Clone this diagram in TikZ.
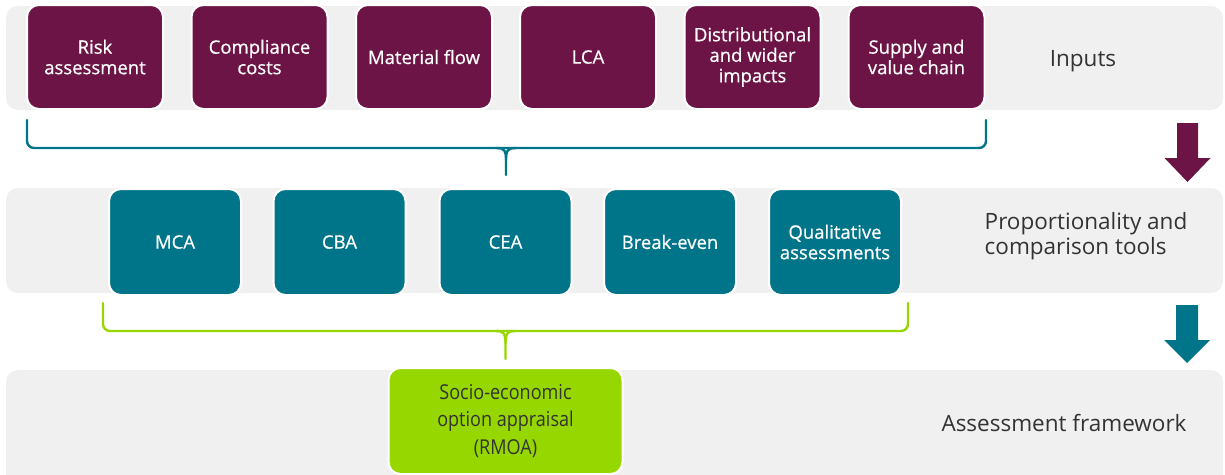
\documentclass[tikz,border=0pt]{standalone}
\usepackage{fontspec}
\usetikzlibrary{calc}
\setmainfont{Open Sans}
\newfontfamily\condfont[FakeStretch=0.88]{Open Sans}
\newfontfamily\boxfont[FakeBold=0.6]{Open Sans}
\definecolor{inpurple}{HTML}{6D1446}
\definecolor{toolteal}{HTML}{00758A}
\definecolor{framegreen}{HTML}{97D700}
\definecolor{bandgray}{HTML}{F0F0F0}
\definecolor{labeltext}{HTML}{333333}
\tikzset{
  band/.style={fill=bandgray, draw=none, rounded corners=12pt},
  inbox/.style={rectangle, rounded corners=12pt, fill=inpurple, draw=white, line width=2pt,
    minimum width=136pt, minimum height=104pt, text=white, align=center,
    font=\boxfont\fontsize{18.5}{20.5}\selectfont, inner sep=2pt},
  toolbox/.style={rectangle, rounded corners=12pt, fill=toolteal, draw=white, line width=2pt,
    minimum width=132pt, minimum height=106pt, text=white, align=center,
    font=\boxfont\fontsize{18.5}{20.5}\selectfont, inner sep=2pt},
  framebox/.style={rectangle, rounded corners=12pt, fill=framegreen, draw=white, line width=2pt,
    minimum width=234pt, minimum height=106pt, text=labeltext, align=center,
    font=\condfont\fontsize{20.5}{27.5}\selectfont, inner sep=2pt},
  rowlabel/.style={text=labeltext, font=\fontsize{22.5}{25}\selectfont, inner sep=0pt},
  bracepath/.style={line width=2.4pt, line cap=round, line join=round},
}
\begin{document}
\begin{tikzpicture}[x=1pt,y=-1pt]
\useasboundingbox (0,0) rectangle (1225,474);
% bands
\fill[band] (6,6) rectangle (1223,110);
\fill[band] (6,188) rectangle (1223,293);
\fill[band] (6,370) rectangle (1223,486);
% inputs
\node[inbox] (risk) at (95,57) {Risk\\assessment};
\node[inbox] (comp) at (259.5,57) {Compliance\\costs};
\node[inbox] (mat) at (424,57) {Material flow};
\node[inbox] (lca) at (588,57) {LCA};
\node[inbox] (dist) at (752.5,57) {Distributional\\and wider\\impacts};
\node[inbox] (supp) at (916.5,57) {Supply and\\value chain};
\node[rowlabel] (lblin) at (1083,61) {Inputs};
% tools
\node[toolbox] (mca) at (175,242) {MCA};
\node[toolbox] (cba) at (339.5,242) {CBA};
\node[toolbox] (cea) at (505.5,242) {CEA};
\node[toolbox] (be) at (670,242) {Break-even};
\node[toolbox] (qual) at (835,242) {Qualitative\\assessments};
\node[rowlabel, align=left] (lbltools) at (1086,236) {Proportionality and\\comparison tools};
% framework
\node[framebox] (rmoa) at (505.5,421) {Socio-economic\\option appraisal\\(RMOA)};
\node[rowlabel] (lblfw) at (1064,423) {Assessment framework};
% brace 1
\coordinate (b1l) at (27,120);
\coordinate (b1r) at (986,120);
\coordinate (b1tip) at (506,175);
\draw[bracepath, toolteal, rounded corners=7pt] (b1l) -- ++(0,28) -- ($(b1tip)+(0,-27)$) -- ($(b1r)+(0,28)$) -- (b1r);
\draw[bracepath, toolteal] ($(b1tip)+(-10,-27)$) .. controls ($(b1tip)+(-1,-27)$) and ($(b1tip)+(0,-24)$) .. ($(b1tip)+(0,-15)$) -- (b1tip);
\draw[bracepath, toolteal] ($(b1tip)+(10,-27)$) .. controls ($(b1tip)+(1,-27)$) and ($(b1tip)+(0,-24)$) .. ($(b1tip)+(0,-15)$);
% brace 2
\coordinate (b2l) at (103,303);
\coordinate (b2r) at (908,303);
\coordinate (b2tip) at (505.5,359);
\draw[bracepath, framegreen, rounded corners=7pt] (b2l) -- ++(0,28) -- ($(b2tip)+(0,-28)$) -- ($(b2r)+(0,28)$) -- (b2r);
\draw[bracepath, framegreen] ($(b2tip)+(-10,-28)$) .. controls ($(b2tip)+(-1,-28)$) and ($(b2tip)+(0,-25)$) .. ($(b2tip)+(0,-16)$) -- (b2tip);
\draw[bracepath, framegreen] ($(b2tip)+(10,-28)$) .. controls ($(b2tip)+(1,-28)$) and ($(b2tip)+(0,-25)$) .. ($(b2tip)+(0,-16)$);
% arrows
\fill[inpurple] (1177,123) -- (1198,123) -- (1198,158) -- (1210.5,158) -- (1187.5,182) -- (1164.5,158) -- (1177,158) -- cycle;
\fill[toolteal] (1176,305) -- (1198,305) -- (1198,340) -- (1210,340) -- (1187,363) -- (1164,340) -- (1176,340) -- cycle;
\end{tikzpicture}
\end{document}
